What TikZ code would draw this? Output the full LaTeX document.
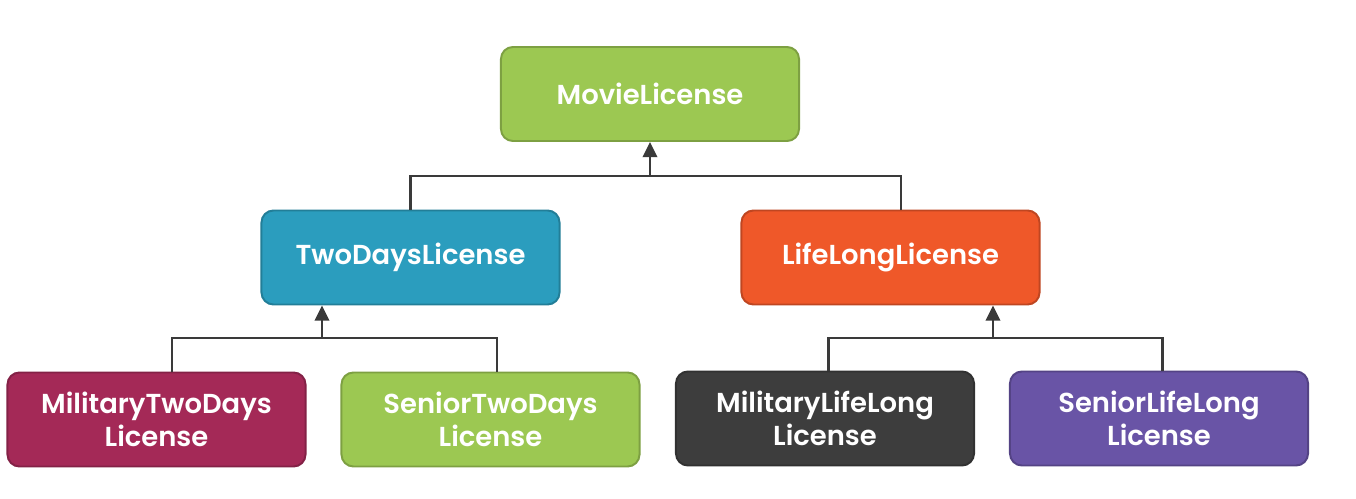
\documentclass[tikz,border=0pt]{standalone}
\usepackage{fontspec}
\setmainfont{Poppins}[BoldFont={Poppins SemiBold}]
\usetikzlibrary{arrows.meta}
\definecolor{lgreen}{HTML}{9CC852}
\definecolor{teal}{HTML}{2B9DBE}
\definecolor{orange}{HTML}{EF5829}
\definecolor{crimson}{HTML}{A42957}
\definecolor{charcoal}{HTML}{3D3D3D}
\definecolor{purple}{HTML}{6954A6}
\definecolor{linegray}{HTML}{3A3A3A}
\tikzset{
    licbox/.style={draw=#1!80!black, fill=#1, line width=1.4pt, rounded corners=0.3cm,
        minimum width=7.45cm, minimum height=2.35cm, align=center, text=white,
        font=\fontsize{19.5}{23.5}\selectfont\bfseries},
    link/.style={draw=linegray, line width=1.9pt},
    inherit/.style={link, -{Triangle[length=0.38cm, width=0.36cm]}}
}
\begin{document}
\begin{tikzpicture}[x=0.025cm, y=-0.025cm]
    \useasboundingbox[fill=white] (0, 0) rectangle (1356, 499);
    \node[licbox=lgreen] (movie) at (650, 94) {MovieLicense};
    \node[licbox=teal] (twodays) at (410.5, 257.5) {TwoDaysLicense};
    \node[licbox=orange] (lifelong) at (890.5, 257.5) {LifeLongLicense};
    \node[licbox=crimson] (miltwo) at (156.5, 419.5) {MilitaryTwoDays\\License};
    \node[licbox=lgreen] (sentwo) at (490.5, 419.5) {SeniorTwoDays\\License};
    \node[licbox=charcoal] (millife) at (825, 418.5) {MilitaryLifeLong\\License};
    \node[licbox=purple] (senlife) at (1159, 418.5) {SeniorLifeLong\\License};
    % junctions
    \coordinate (jtop) at (650, 176);
    \coordinate (jleft) at (322, 338);
    \coordinate (jright) at (993, 338);
    \draw[link] (twodays.north) |- (jtop) -| ([xshift=0.26cm]lifelong.north);
    \draw[inherit] (jtop) -- (movie.south);
    \draw[link] ([xshift=0.39cm]miltwo.north) |- (jleft) -| ([xshift=0.16cm]sentwo.north);
    \draw[inherit] (jleft) -- (jleft |- twodays.south);
    \draw[link] ([xshift=0.08cm]millife.north) |- (jright) -| ([xshift=0.08cm]senlife.north);
    \draw[inherit] (jright) -- (jright |- lifelong.south);
\end{tikzpicture}
\end{document}
